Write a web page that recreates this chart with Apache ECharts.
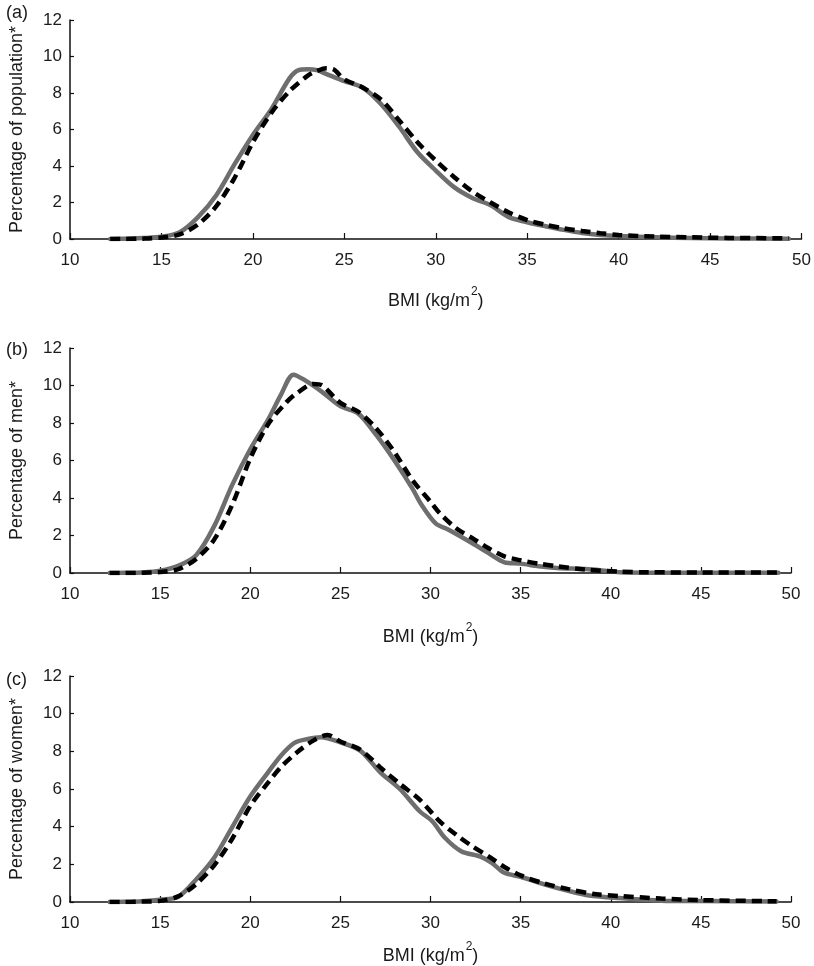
<!DOCTYPE html>
<html>
<head>
<meta charset="utf-8">
<script src="https://cdn.jsdelivr.net/npm/echarts@6/dist/echarts.min.js"></script>
<style>
html,body{margin:0;padding:0;background:#fff;}
#chart{width:814px;height:966px;}
</style>
</head>
<body>
<div id="chart"></div>
<script>
// ---- Data (BMI in kg/m2, percentage) ----
const panelLabels = ['(a)', '(b)', '(c)'];
const yAxisNames = ['Percentage of population*', 'Percentage of men*', 'Percentage of women*'];
const xAxisName = 'BMI (kg/m2)';

// Panel (a) population
const solidA_x = [12.2,13,14,15,16,17,18,19,20,21,22,22.5,23,23.5,24,25,26,27,28,29,30,31,32,33,34,35,36,37,38,39,40,42,44,46,49.3];
const solidA_y = [0,0.02,0.05,0.12,0.37,1.2,2.4,4.1,5.7,7.1,8.8,9.25,9.3,9.25,9.05,8.65,8.3,7.4,6.15,4.75,3.75,2.84,2.25,1.85,1.2,0.92,0.7,0.5,0.33,0.22,0.16,0.09,0.05,0.03,0.02];
const dashA_x = [12.2,13,14,15,16,17,18,19,20,21,22,23,23.5,24,24.4,25,26,27,28,29,30,31,32,33,34,35,36,37,38,39,40,42,44,46,49.3];
const dashA_y = [0,0,0.02,0.08,0.25,0.8,1.8,3.35,5.3,6.9,8.1,8.95,9.2,9.35,9.3,8.75,8.3,7.65,6.5,5.3,4.3,3.4,2.6,2.0,1.45,1.04,0.78,0.58,0.44,0.32,0.22,0.13,0.09,0.06,0.04];

// Panel (b) men
const solidB_x = [12.2,13,14,15,16,17,18,19,20,21,21.7,22.4,23,24,25,26,27,28,29,29.5,30.3,31,32.3,33.2,34.1,35,36,37,38.6,39.5,40.5,42,45,49.3];
const solidB_y = [0,0.01,0.03,0.12,0.38,0.95,2.5,4.7,6.6,8.2,9.5,10.58,10.3,9.65,8.9,8.5,7.35,6.0,4.5,3.64,2.63,2.31,1.6,1.07,0.57,0.5,0.36,0.27,0.21,0.14,0.04,0.02,0.02,0.02];
const dashB_x = [12.2,13,14,15,16,17,18,19,20,21,22,22.6,23.5,24,25,26,27,28,29,30,30.5,31.4,32.3,33.2,34.1,35,36,37,38.6,40.5,42,45,49.3];
const dashB_y = [0,0,0.01,0.05,0.2,0.75,1.78,3.64,6.1,7.95,9.1,9.6,10.08,10.0,9.07,8.6,7.7,6.45,4.95,3.8,3.2,2.4,1.87,1.33,0.89,0.68,0.5,0.36,0.18,0.07,0.04,0.03,0.03];

// Panel (c) women
const solidC_x = [12.2,13,14,15,16,17,18,19,20,21,21.7,22.45,23.2,23.9,25,26.1,27.2,28.3,29.4,30.1,30.8,31.7,32.8,33.4,34.1,35,36.3,37.7,38.8,40.45,42.8,45,49.2];
const solidC_y = [0,0.01,0.04,0.12,0.27,1.2,2.35,3.98,5.6,6.9,7.77,8.45,8.66,8.75,8.48,8.04,6.9,6.0,4.82,4.29,3.41,2.7,2.4,2.08,1.55,1.34,0.94,0.58,0.35,0.21,0.07,0.05,0.03];
const dashC_x = [12.2,13,14,15,16,17,18,19,20,21,21.7,22.6,23.5,24.3,25,26.1,27.2,28.3,29.4,30.5,31.4,32.3,33.2,34.1,35,36.3,37.7,39.2,40.45,42.8,45,49.2];
const dashC_y = [0,0,0.02,0.06,0.3,0.95,1.95,3.36,5.1,6.35,7.16,7.95,8.57,8.87,8.52,8.09,7.16,6.27,5.44,4.29,3.59,2.97,2.44,1.86,1.41,0.99,0.67,0.41,0.32,0.18,0.1,0.04];

// ---- Build chart ----
const zip = (xs, ys) => xs.map((x, i) => [x, ys[i]]);
const solids = [zip(solidA_x, solidA_y), zip(solidB_x, solidB_y), zip(solidC_x, solidC_y)];
const dashes = [zip(dashA_x, dashA_y), zip(dashB_x, dashB_y), zip(dashC_x, dashC_y)];

const FONT = 'Liberation Sans, Arial, sans-serif';
const TXT = '#1a1a1a';
const grids = [
  {left: 60, right: 11, top: 20, height: 219},
  {left: 59, right: 23, top: 348, height: 225},
  {left: 59, right: 23, top: 676, height: 227}
];
const nameGaps = [47, 49, 39];
const titleTops = [-1, 336, 666];

const xName = xAxisName.replace(/^(.*)2(\))$/, '{a|$1}{s|2}{a|$2}');

const option = {
  animation: false,
  backgroundColor: '#fff',
  title: panelLabels.map((t, i) => ({
    text: t, left: 1, top: titleTops[i],
    textStyle: {fontFamily: FONT, fontSize: 18, fontWeight: 'normal', color: TXT}
  })),
  grid: grids,
  xAxis: grids.map((g, i) => ({
    type: 'value', gridIndex: i, min: 10, max: 50, interval: 5,
    name: xName, nameLocation: 'middle', nameGap: nameGaps[i],
    nameTextStyle: {
      rich: {
        a: {fontFamily: FONT, fontSize: 18, color: TXT, lineHeight: 24, verticalAlign: 'bottom'},
        s: {fontFamily: FONT, fontSize: 12, color: TXT, lineHeight: 24, verticalAlign: 'top', padding: [0, 0, 0, 1]}
      }
    },
    axisLine: {show: true, onZero: false, lineStyle: {color: '#111', width: 1.5}},
    axisTick: {show: true, inside: true, length: 6, lineStyle: {color: '#111', width: 1.2}},
    axisLabel: {fontFamily: FONT, fontSize: 17, color: TXT, margin: 13},
    splitLine: {show: false}
  })),
  yAxis: grids.map((g, i) => ({
    type: 'value', gridIndex: i, min: 0, max: 12, interval: 2,
    name: yAxisNames[i], nameLocation: 'middle', nameGap: 44,
    nameTextStyle: {fontFamily: FONT, fontSize: 18, color: TXT},
    axisLine: {show: true, lineStyle: {color: '#111', width: 1.5}},
    axisTick: {show: true, inside: true, length: 4, lineStyle: {color: '#111', width: 1.2}},
    axisLabel: {fontFamily: FONT, fontSize: 17, color: TXT, margin: 8},
    splitLine: {show: false}
  })),
  series: []
};

for (let i = 0; i < 3; i++) {
  option.series.push({
    type: 'line', xAxisIndex: i, yAxisIndex: i, data: solids[i],
    smooth: 0.3, symbol: 'none',
    lineStyle: {color: '#6e6e6e', width: 4.5, cap: 'round', join: 'round'}
  });
  option.series.push({
    type: 'line', xAxisIndex: i, yAxisIndex: i, data: dashes[i],
    smooth: 0.3, symbol: 'none',
    lineStyle: {color: '#000', width: 4.5, type: [10, 6], cap: 'butt'}
  });
}

const chart = echarts.init(document.getElementById('chart'), null, {renderer: 'canvas'});
chart.setOption(option);
</script>
</body>
</html>
